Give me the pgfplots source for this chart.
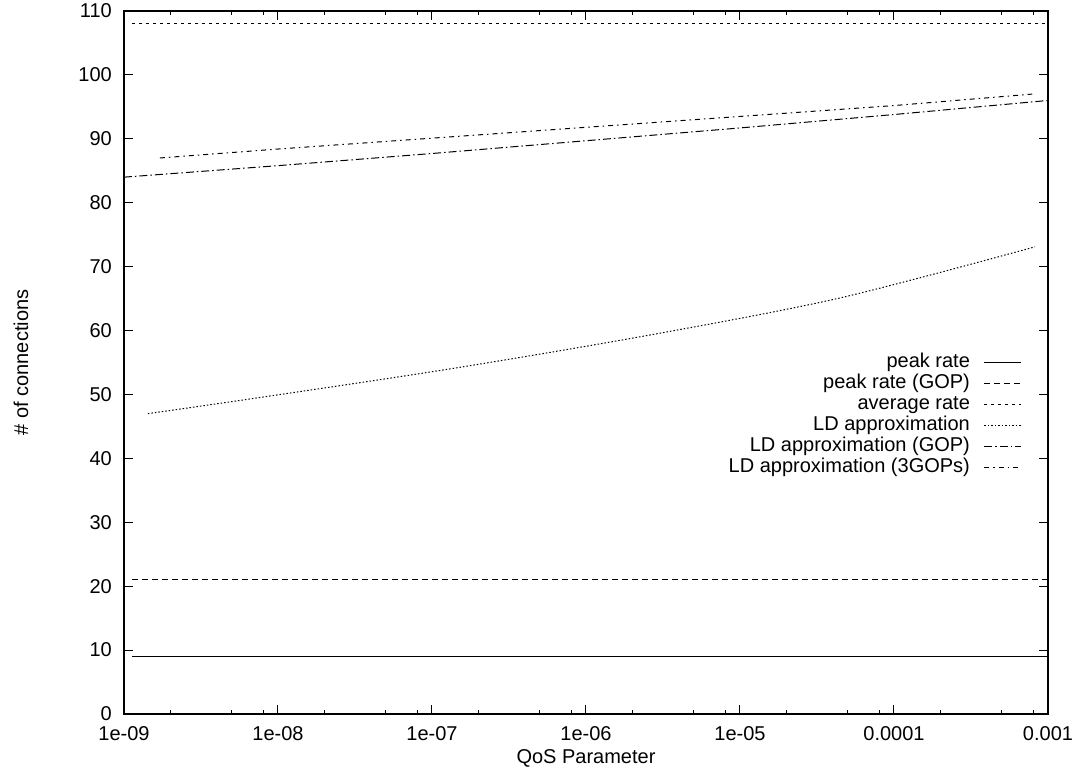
\documentclass[border=0pt]{standalone}
\usepackage{fontspec}
\setmainfont{Liberation Sans}
\usepackage{pgfplots}
\pgfplotsset{compat=1.18}
\begin{document}
\begin{tikzpicture}[font=\fontsize{20bp}{24bp}\selectfont]
\begin{axis}[
  name=ax,
  scale only axis, width=924bp, height=703bp,
  xmode=log, xmin=1e-9, xmax=1e-3, ymin=0, ymax=110,
  xtick={1e-9,1e-8,1e-7,1e-6,1e-5,1e-4,1e-3},
  xticklabels={1e-09,1e-08,1e-07,1e-06,1e-05,0.0001,0.001},
  minor xtick={2e-9,5e-9,8e-9,2e-8,5e-8,8e-8,2e-7,5e-7,8e-7,2e-6,5e-6,8e-6,2e-5,5e-5,8e-5,2e-4,5e-4,8e-4},
  ytick={0,10,...,110},
  /pgf/number format/assume math mode=true,
  tick align=inside, major tick length=9bp, minor tick length=4bp,
  axis line style={line width=1.4bp},
  every tick/.style={black, line width=1bp},
  xticklabel style={anchor=base, yshift=-27bp},
  yticklabel style={anchor=east, inner sep=0pt, xshift=-12bp},
  every axis x label/.style={at={(axis description cs:0.5,0)}, anchor=center, yshift=-44bp},
  every axis y label/.style={at={(axis description cs:0,0.5)}, anchor=center, rotate=90, yshift=103bp},
  xlabel={QoS Parameter}, ylabel={\# of connections},
  legend plot pos=right, legend cell align=right,
  legend image code/.code={\path (0bp,0bp); \draw[#1] (14bp,0bp) -- (51bp,0bp);},
  legend style={draw=none, fill=none, inner sep=0pt, at={(0.972,0.5135)}, anchor=north east,
    nodes={inner sep=0pt, text height=14bp, text depth=4bp}, row sep=3bp},
  every axis plot/.append style={black, line width=1bp},
]
\addplot[solid] coordinates {(1.13e-9,9) (1e-3,9)};
\addlegendentry{peak rate}
\addplot[dash pattern=on 6bp off 4bp] coordinates {(1.13e-9,21) (1e-3,21)};
\addlegendentry{peak rate (GOP)}
\addplot[dash pattern=on 3bp off 4bp] coordinates {(1.13e-9,108) (1e-3,108)};
\addlegendentry{average rate}
\addplot[dash pattern=on 1.5bp off 2bp, smooth] coordinates {
(1.43e-9,47.0) (6.6e-9,49.3) (1.31e-7,54.0) (2.6e-6,59.3) (4.46e-5,65.1) (8.24e-4,73.1)};
\addlegendentry{LD approximation}
\addplot[dash pattern=on 8bp off 3bp on 1.5bp off 3bp] coordinates {
(1e-9,84.0) (1e-8,85.8) (1e-7,87.7) (1e-6,89.7) (1e-5,91.7) (1e-4,93.8) (1e-3,96.0)};
\addlegendentry{LD approximation (GOP)}
\addplot[dash pattern=on 5bp off 4bp on 1.5bp off 4bp] coordinates {
(1.71e-9,87.0) (1e-8,88.4) (1e-7,90.1) (1e-6,91.8) (1e-5,93.5) (1e-4,95.2) (7.9e-4,97.0)};
\addlegendentry{LD approximation (3GOPs)}
\end{axis}
\path (ax.south west) ++(-124bp,-58bp) rectangle ++(1086bp,772bp);
\end{tikzpicture}
\end{document}
